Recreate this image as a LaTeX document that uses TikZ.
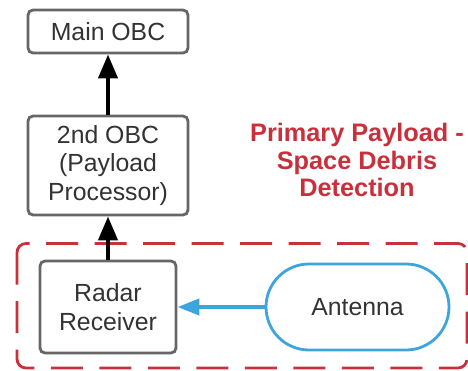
\documentclass[tikz,border=0pt]{standalone}
\usepackage{fontspec}
\setmainfont{Liberation Sans}
\usetikzlibrary{arrows.meta}
\definecolor{boxgray}{HTML}{666666}
\definecolor{txtgray}{HTML}{333333}
\definecolor{redc}{HTML}{C8303C}
\definecolor{bluec}{HTML}{3DA5DD}
\tikzset{
  gbox/.style={draw=boxgray, line width=2.8pt, rounded corners=5pt, fill=white, text=txtgray, font=\fontsize{24.8}{28.5}\selectfont, align=center, inner sep=0pt},
  blackarrow/.style={line width=4.2pt, -{Triangle[length=24pt,width=19pt]}},
  bluearrow/.style={draw=bluec, line width=4.2pt, -{Triangle[length=22pt,width=16pt]}, color=bluec},
}
\begin{document}
\begin{tikzpicture}[x=1pt,y=-1pt]
\useasboundingbox (0,0) rectangle (468,370);
% dashed region
\draw[redc, line width=2.8pt, dash pattern=on 32pt off 16.5pt, rounded corners=9pt] (17,243.5) rectangle (467,368);
\node[gbox, minimum width=160pt, minimum height=43pt] (main) at (108,31.5) {Main OBC};
\node[gbox, minimum width=160pt, minimum height=99pt] (obc2) at (108,165.5) {2nd OBC\\(Payload\\Processor)};
\node[gbox, minimum width=136pt, minimum height=92pt] (radar) at (108,307) {Radar\\Receiver};
\node[draw=bluec, line width=2.8pt, rounded corners=43pt, minimum width=183pt, minimum height=86pt, inner sep=0pt, text=txtgray, font=\fontsize{24.8}{28.5}\selectfont] (ant) at (357.5,307) {Antenna};
\node[text=redc, font=\bfseries\fontsize{25.3}{27.5}\selectfont, align=center] (title) at (357,160) {Primary Payload -\\Space Debris\\Detection};
\draw[blackarrow] (obc2.north) -- (main.south);
\draw[blackarrow] (radar.north) -- (obc2.south);
\draw[bluearrow] (ant.west) -- (radar.east);
\end{tikzpicture}
\end{document}
